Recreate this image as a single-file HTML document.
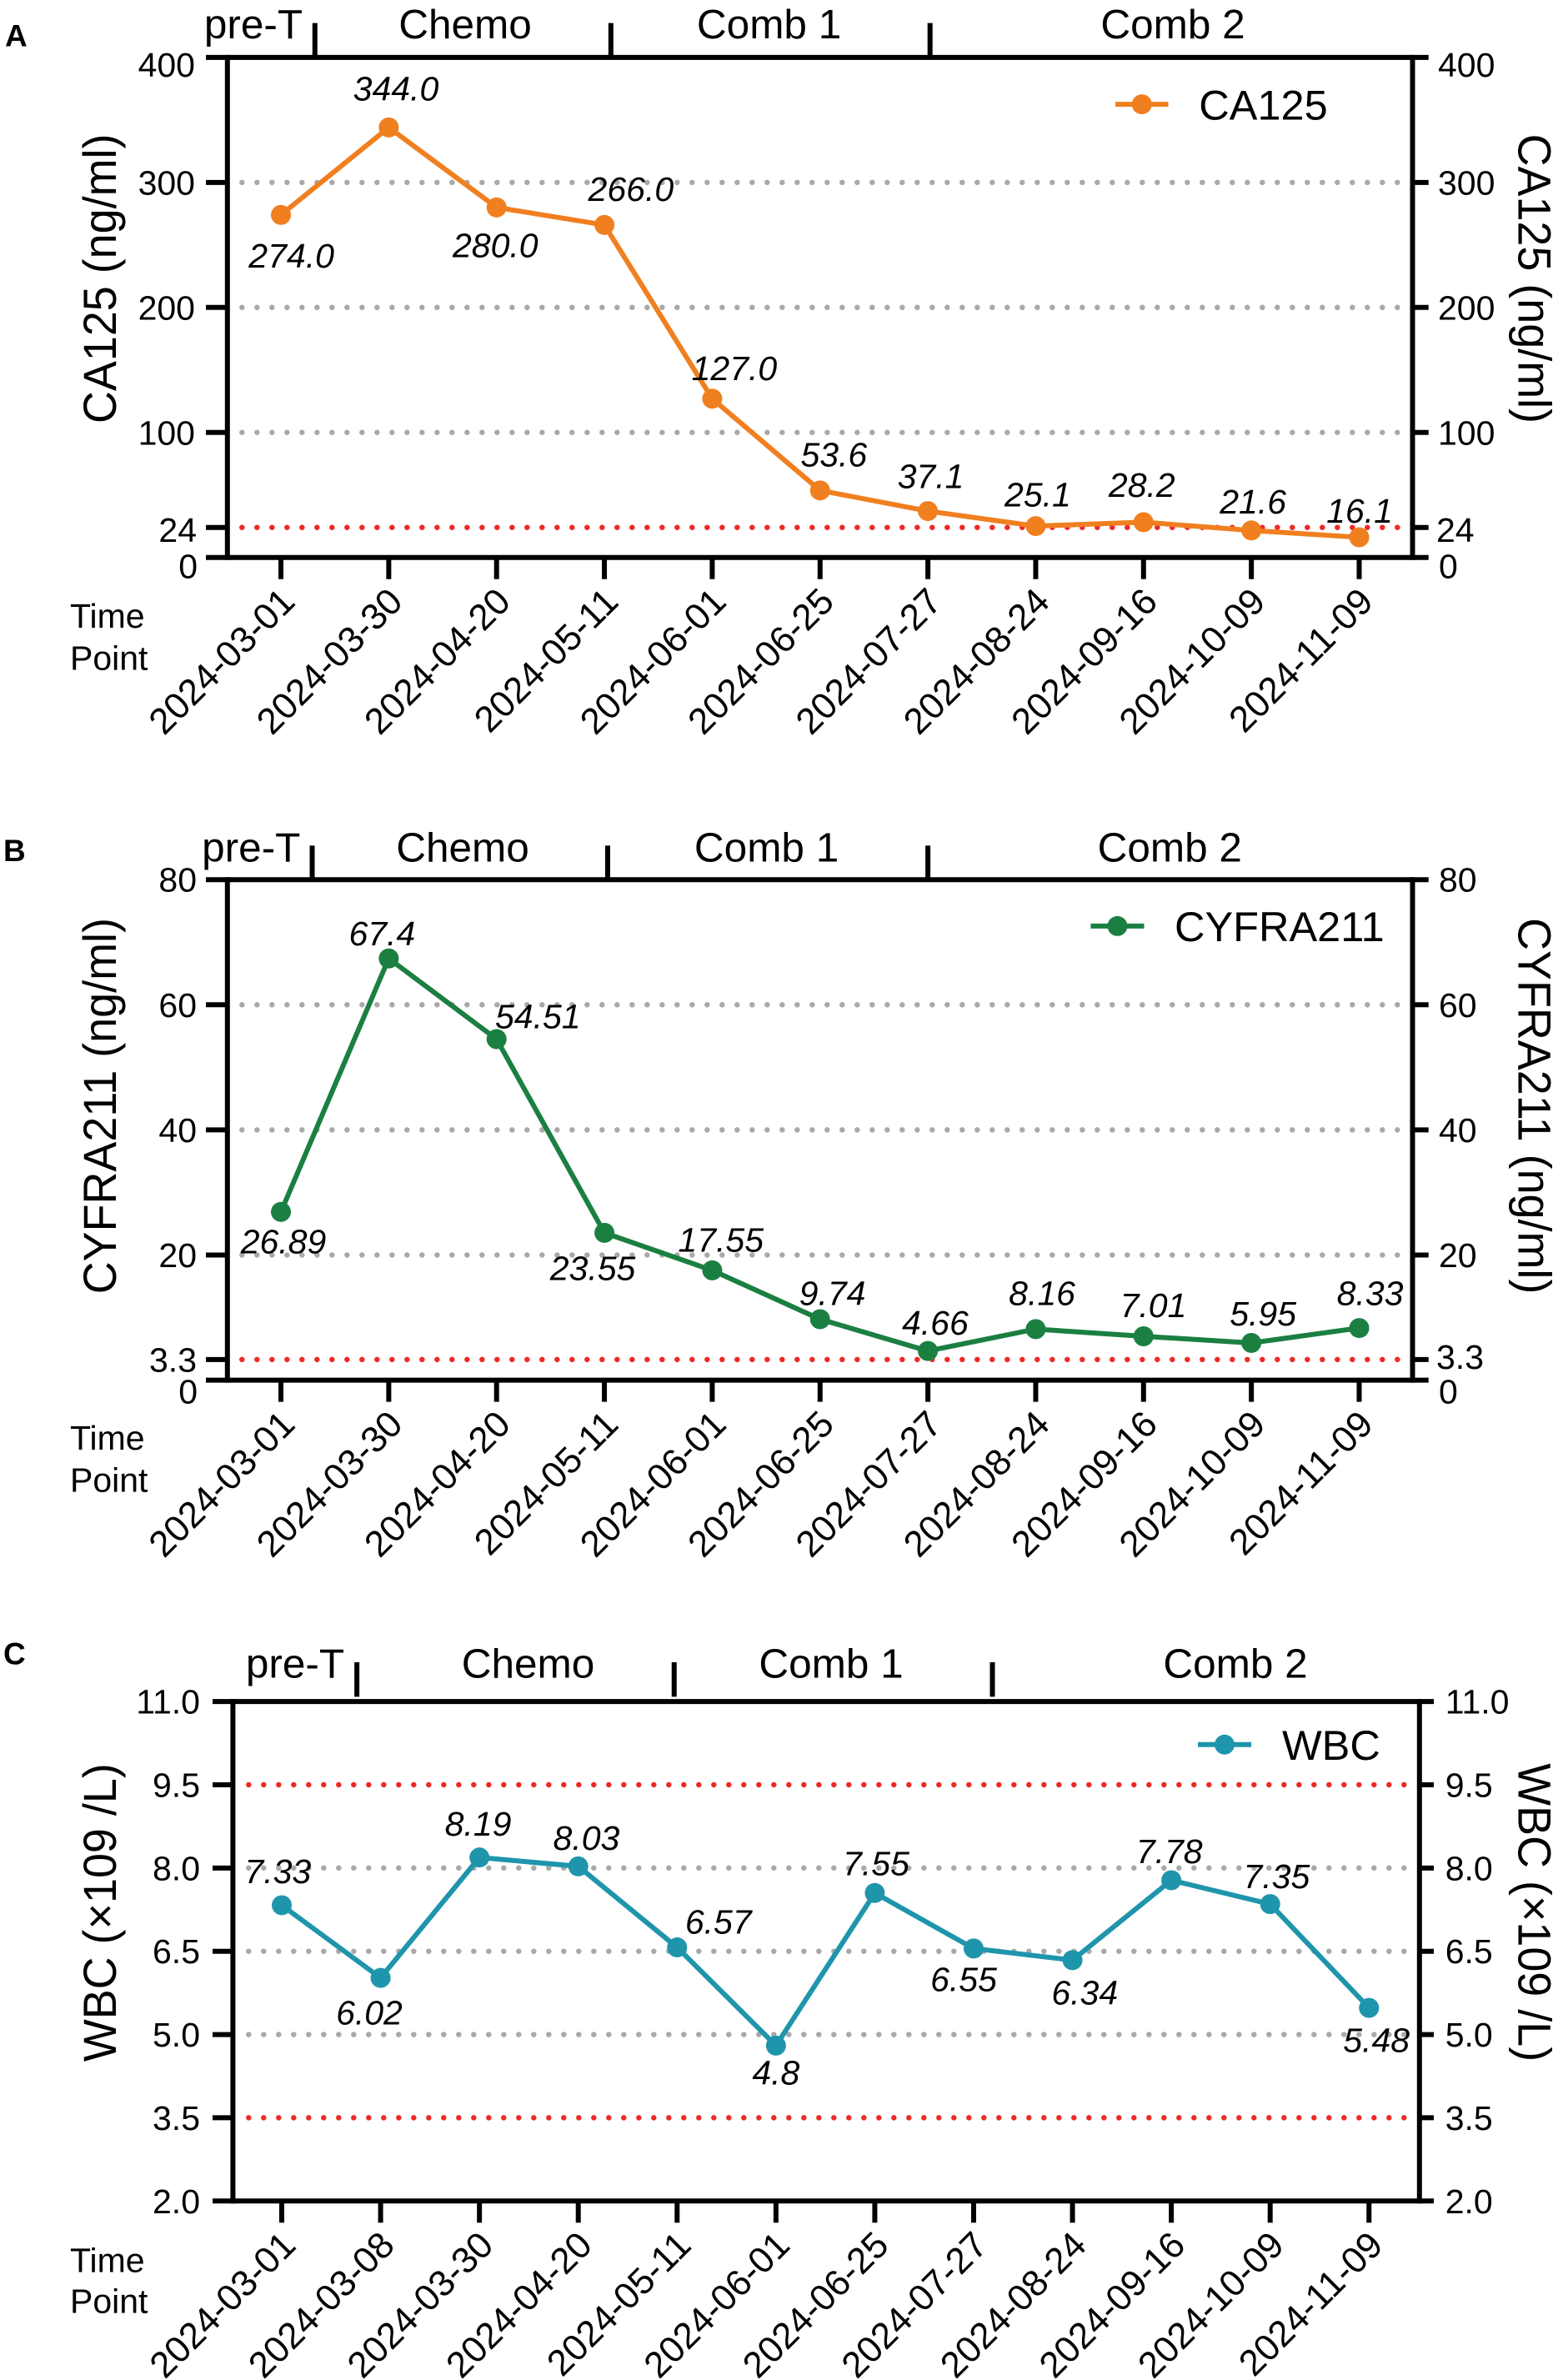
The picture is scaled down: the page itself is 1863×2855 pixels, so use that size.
<!DOCTYPE html>
<html lang="en">
<head>
<meta charset="utf-8">
<title>Tumor markers and WBC over time</title>
<style>
  html, body { margin: 0; padding: 0; background: #fff; }
  svg { display: block; font-family: "Liberation Sans", Arial, sans-serif; }
  text { fill: #000; }
</style>
</head>
<body>
<svg id="figure" xmlns="http://www.w3.org/2000/svg" width="1863" height="2855" viewBox="0 0 1863 2855"></svg>
<script>
// ---------- Data ----------
const ca125Dates = ["2024-03-01","2024-03-30","2024-04-20","2024-05-11","2024-06-01","2024-06-25","2024-07-27","2024-08-24","2024-09-16","2024-10-09","2024-11-09"];
const ca125Values = [274.0,344.0,280.0,266.0,127.0,53.6,37.1,25.1,28.2,21.6,16.1];
const ca125Ticks = [0,24,100,200,300,400];
const ca125Grid = [100,200,300];
const ca125Refs = [24];

const cyfraDates = ["2024-03-01","2024-03-30","2024-04-20","2024-05-11","2024-06-01","2024-06-25","2024-07-27","2024-08-24","2024-09-16","2024-10-09","2024-11-09"];
const cyfraValues = [26.89,67.4,54.51,23.55,17.55,9.74,4.66,8.16,7.01,5.95,8.33];
const cyfraTicks = [0,3.3,20,40,60,80];
const cyfraGrid = [20,40,60];
const cyfraRefs = [3.3];

const wbcDates = ["2024-03-01","2024-03-08","2024-03-30","2024-04-20","2024-05-11","2024-06-01","2024-06-25","2024-07-27","2024-08-24","2024-09-16","2024-10-09","2024-11-09"];
const wbcValues = [7.33,6.02,8.19,8.03,6.57,4.8,7.55,6.55,6.34,7.78,7.35,5.48];
const wbcTicks = [2.0,3.5,5.0,6.5,8.0,9.5,11.0];
const wbcGrid = [5.0,6.5,8.0];
const wbcRefs = [3.5,9.5];

const phaseNames = ["pre-T","Chemo","Comb 1","Comb 2"];

// ---------- Panel layout (pixels; separate from the data) ----------
const panels = [
  {
    name: "ca125", letter: "A", letterX: 6, letterY: 55.7,
    title: "CA125 (ng/ml)", titleY: 334.3, series: "CA125", color: "#F07F20",
    dates: ca125Dates, values: ca125Values, ticks: ca125Ticks, grid: ca125Grid, refs: ca125Refs,
    fmtTick: function (v) { return String(v); }, fmtValue: function (v) { return v.toFixed(1); },
    domain: [0,400], top: 68.9, bottom: 668.7, left: 272.8, right: 1694.5, tickL: 247, tickR: 1713.7,
    x0: 337, step: 129.35, dotStart: 290.3,
    leftLabelX: [237,236,234,234,234,234], rightLabelX: [1726,1723,1725,1725,1725,1725],
    tickNudge: [10.4,2.9,0,0,0,8.7], rightNudge: [10.4,2.9,0,0,0,8.7],
    dx: [12.6,8.6,-1.4,31.8,26.5,16.6,3.4,2.5,-2,2,0.5],
    dy: [63.4,-32.5,59.8,-29,-22.1,-29,-27.6,-23.7,-30.6,-20.3,-17.4],
    breaks: [0.315,3.06,6.02], breakTop: 27.6, breakBottom: 68.9,
    phaseX: [304,558,922.6,1407], phaseY: 45.9,
    timeY: 753, pointY: 803.6,
    legendX1: 1338, legendX2: 1401.5, legendY: 125.1, legendTextX: 1438.3, legendTextY: 143.5
  },
  {
    name: "cyfra211", letter: "B", letterX: 4, letterY: 1032.8,
    title: "CYFRA211 (ng/ml)", titleY: 1326.7, series: "CYFRA211", color: "#1B7F42",
    dates: cyfraDates, values: cyfraValues, ticks: cyfraTicks, grid: cyfraGrid, refs: cyfraRefs,
    fmtTick: function (v) { return String(v); }, fmtValue: function (v) { return String(v); },
    domain: [0,80], top: 1055.2, bottom: 1655.6, left: 272.8, right: 1694.5, tickL: 247, tickR: 1713.7,
    x0: 337, step: 129.35, dotStart: 290.3,
    leftLabelX: [237,236,236,236,236,236], rightLabelX: [1726,1723,1726,1726,1726,1726],
    tickNudge: [13.3,0,0,0,0,0], rightNudge: [13.3,-3.4,0,0,0,0],
    dx: [3,-8,49.6,-14,10.3,14.8,8.8,7.6,11.7,14,13],
    dy: [49.8,-15.9,-12.9,56.8,-22.5,-16.9,-19.4,-28.7,-23,-20.7,-27.5],
    breaks: [0.29,3.03,6.0], breakTop: 1014.4, breakBottom: 1055.2,
    phaseX: [301.3,555,919.6,1403.3], phaseY: 1033.4,
    timeY: 1738.8, pointY: 1789.3,
    legendX1: 1308.4, legendX2: 1372.5, legendY: 1110.9, legendTextX: 1409, legendTextY: 1129.2
  },
  {
    name: "wbc", letter: "C", letterX: 4, letterY: 1996.3,
    title: "WBC (\u00D7109 /L)", titleY: 2294.2, series: "WBC", color: "#1F95AC",
    dates: wbcDates, values: wbcValues, ticks: wbcTicks, grid: wbcGrid, refs: wbcRefs,
    fmtTick: function (v) { return v.toFixed(1); }, fmtValue: function (v) { return String(v); },
    domain: [2,11], top: 2041.1, bottom: 2640.3, left: 279.4, right: 1702.8, tickL: 255, tickR: 1720,
    x0: 338, step: 118.57, dotStart: 298.3,
    leftLabelX: [240,240,240,240,240,240,240], rightLabelX: [1733.7,1733.7,1733.7,1733.7,1733.7,1733.7,1733.7],
    tickNudge: [0,0,0,0,0,0,0], rightNudge: [0,0,0,0,0,0,0],
    dx: [-4.7,-13.6,-1.6,9.7,49.5,0,1.6,-12,14.7,-2.4,7.7,8.9],
    dy: [-26.4,55.7,-26.4,-19.8,-16.6,46.5,-21.2,51,52.9,-20.4,-19,52.8],
    breaks: [0.76,3.97,7.19], breakTop: 1994, breakBottom: 2035.4,
    phaseX: [354,633.5,997,1482], phaseY: 2012.4,
    timeY: 2725.3, pointY: 2774.7,
    legendX1: 1437, legendX2: 1501, legendY: 2092.8, legendTextX: 1538, legendTextY: 2111.1
  }
];

// ---------- Drawing ----------
const NS = "http://www.w3.org/2000/svg";
const figure = document.getElementById("figure");
const AXIS_W = 6;
const LINE_W = 6;

function make(tag, attrs, parent) {
  const node = document.createElementNS(NS, tag);
  for (const k in attrs) node.setAttribute(k, attrs[k]);
  parent.appendChild(node);
  return node;
}

function drawPanel(p) {
  const g = make("g", {}, figure);
  
  

  const scaleY = function (v) {
    return p.bottom - (v - p.domain[0]) / (p.domain[1] - p.domain[0]) * (p.bottom - p.top);
  };
  const scaleX = function (i) { return p.x0 + p.step * i; };

  // panel letter
  const letter = make("text", { x: p.letterX, y: p.letterY, "font-size": 37, "font-weight": "bold" }, g);
  letter.textContent = p.letter;
  
  

  // dotted reference lines
  p.grid.forEach(function (v) {
    const line = make("line", { x1: p.dotStart, x2: p.right - 3, y1: scaleY(v), y2: scaleY(v), stroke: "#A9A9A9", "stroke-width": 6.5, "stroke-linecap": "round", "stroke-dasharray": "0 18" }, g);
    
    
  });
  p.refs.forEach(function (v) {
    const line = make("line", { x1: p.dotStart, x2: p.right - 3, y1: scaleY(v), y2: scaleY(v), stroke: "#EE2A24", "stroke-width": 6.5, "stroke-linecap": "round", "stroke-dasharray": "0 18" }, g);
    
    
  });

  // spines
  const leftAxis = make("line", { x1: p.left, x2: p.left, y1: p.top - 3, y2: p.bottom + 3, stroke: "#000", "stroke-width": AXIS_W }, g);
  
  
  const rightAxis = make("line", { x1: p.right, x2: p.right, y1: p.top - 3, y2: p.bottom + 3, stroke: "#000", "stroke-width": AXIS_W }, g);
  
  
  const topAxis = make("line", { x1: p.left, x2: p.right, y1: p.top, y2: p.top, stroke: "#000", "stroke-width": AXIS_W }, g);
  
  
  const bottomAxis = make("line", { x1: p.left, x2: p.right, y1: p.bottom, y2: p.bottom, stroke: "#000", "stroke-width": AXIS_W }, g);
  
  

  // y ticks, both sides
  p.ticks.forEach(function (v, i) {
    const y = scaleY(v);
    const lt = make("line", { x1: p.tickL, x2: p.left, y1: y, y2: y, stroke: "#000", "stroke-width": AXIS_W }, g);
    
    
    const rt = make("line", { x1: p.right, x2: p.tickR, y1: y, y2: y, stroke: "#000", "stroke-width": AXIS_W }, g);
    
    
    const ll = make("text", { x: p.leftLabelX[i], y: y + 14.5 + p.tickNudge[i], "font-size": 41, "text-anchor": "end" }, g);
    ll.textContent = p.fmtTick(v);
    
    
    const rl = make("text", { x: p.rightLabelX[i], y: y + 14.5 + p.rightNudge[i], "font-size": 41 }, g);
    rl.textContent = p.fmtTick(v);
    
    
  });

  // axis titles (slightly condensed along the text direction, as in the reference)
  const cyL = p.titleY;
  const titleL = make("text", { transform: "translate(139 " + cyL + ") rotate(-90) scale(0.966 1)", "font-size": 55.8, "text-anchor": "middle" }, g);
  titleL.textContent = p.title;
  
  
  const titleR = make("text", { transform: "translate(1821.7 " + cyL + ") rotate(90) scale(0.966 1)", "font-size": 55.8, "text-anchor": "middle" }, g);
  titleR.textContent = p.title;
  
  

  // x ticks and date labels
  p.dates.forEach(function (d, i) {
    const x = scaleX(i);
    const t = make("line", { x1: x, x2: x, y1: p.bottom, y2: p.bottom + 26, stroke: "#000", "stroke-width": AXIS_W }, g);
    
    
    const lab = make("text", { transform: "translate(" + (x + 19) + " " + (p.bottom + 55.5) + ") rotate(-45)", "font-size": 44, "text-anchor": "end" }, g);
    lab.textContent = d;
    
    
  });

  // "Time Point" caption
  const tm = make("text", { x: 84, y: p.timeY, "font-size": 41 }, g);
  tm.textContent = "Time";
  
  
  const pt = make("text", { x: 84, y: p.pointY, "font-size": 41 }, g);
  pt.textContent = "Point";
  
  

  // treatment phase annotation
  p.breaks.forEach(function (b) {
    const x = scaleX(b);
    const tick = make("line", { x1: x, x2: x, y1: p.breakTop, y2: p.breakBottom, stroke: "#000", "stroke-width": AXIS_W }, g);
    
    
  });
  phaseNames.forEach(function (n, i) {
    const label = make("text", { x: p.phaseX[i], y: p.phaseY, "font-size": 49.5, "text-anchor": "middle" }, g);
    label.textContent = n;
    
    
  });

  // series line
  const pts = p.values.map(function (v, i) { return scaleX(i) + "," + scaleY(v); }).join(" ");
  const poly = make("polyline", { points: pts, fill: "none", stroke: p.color, "stroke-width": LINE_W, "stroke-linejoin": "miter" }, g);
  
  

  // markers
  p.values.forEach(function (v, i) {
    const c = make("circle", { cx: scaleX(i), cy: scaleY(v), r: 12, fill: p.color }, g);
    
    
  });

  // value labels
  p.values.forEach(function (v, i) {
    const t = make("text", { x: scaleX(i) + p.dx[i], y: scaleY(v) + p.dy[i], "font-size": 41, "font-style": "italic", "text-anchor": "middle" }, g);
    t.textContent = p.fmtValue(v);
    
    
  });

  // legend
  const ll = make("line", { x1: p.legendX1, x2: p.legendX2, y1: p.legendY, y2: p.legendY, stroke: p.color, "stroke-width": LINE_W }, g);
  
  
  const lm = make("circle", { cx: (p.legendX1 + p.legendX2) / 2, cy: p.legendY, r: 12, fill: p.color }, g);
  
  
  const lt = make("text", { x: p.legendTextX, y: p.legendTextY, "font-size": 50.5 }, g);
  lt.textContent = p.series;
  
  
}

panels.forEach(drawPanel);
</script>
</body>
</html>
